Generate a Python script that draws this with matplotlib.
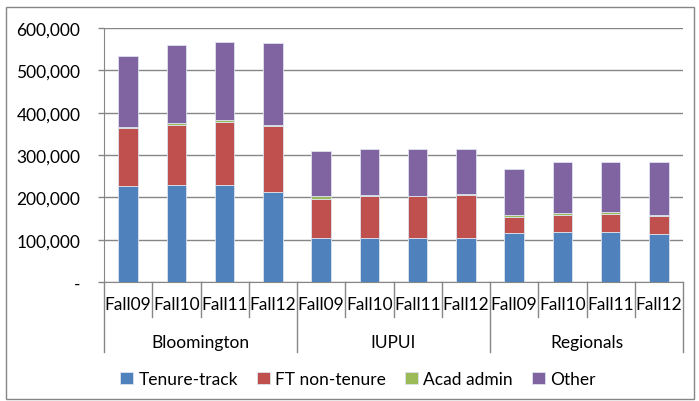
import matplotlib
matplotlib.use("Agg")
import matplotlib.pyplot as plt
from matplotlib.patches import Rectangle
from matplotlib.lines import Line2D
from matplotlib.ticker import FuncFormatter

groups = ["Bloomington", "IUPUI", "Regionals"]
terms = ["Fall09", "Fall10", "Fall11", "Fall12"]
tenure_track = [227000, 229000, 230000, 213000, 103000, 105000, 103000, 104000, 115000, 117000, 118000, 113000]
ft_non_tenure = [137000, 143000, 147500, 155000, 94000, 97000, 99000, 102000, 39000, 42000, 43000, 42000]
acad_admin = [2000, 3000, 5000, 3000, 6000, 3000, 1000, 2000, 4000, 4000, 4000, 3000]
other = [169000, 184000, 184000, 193000, 107000, 109000, 110000, 106000, 108000, 121000, 119000, 126000]
series_names = ["Tenure-track", "FT non-tenure", "Acad admin", "Other"]
colors = ["#4F81BD", "#C0504D", "#9BBB59", "#8064A2"]

plt.rcParams["font.family"] = ["Lato", "DejaVu Sans"]
FS = 12.5

W, H = 699, 402
fig = plt.figure(figsize=(W / 100, H / 100), dpi=100)
ax = fig.add_axes([104 / W, 1 - 283 / H, (683 - 104) / W, (283 - 29) / H])

n = len(groups) * len(terms)
x = list(range(n))
bottom = [0] * n
for vals, name, c in zip([tenure_track, ft_non_tenure, acad_admin, other], series_names, colors):
    ax.bar(x, vals, width=0.4, bottom=bottom, color=c, label=name,
           edgecolor="#dde3ee", linewidth=0.6, zorder=3)
    bottom = [b + v for b, v in zip(bottom, vals)]

ax.set_xlim(-0.5, n - 0.5)
ax.set_ylim(0, 600000)
ax.set_yticks(range(0, 600001, 100000))
ax.yaxis.set_major_formatter(FuncFormatter(lambda v, p: "-" if v == 0 else f"{int(v):,}"))
ax.tick_params(axis="y", length=4, color="#868686", labelsize=FS, pad=13, width=1)
ax.yaxis.grid(True, color="#868686", linewidth=1, zorder=0)
ax.set_xticks([])
for s in ["top", "right"]:
    ax.spines[s].set_visible(False)
ax.spines["left"].set_color("#868686")
ax.spines["bottom"].set_color("#868686")

# multi-level category axis
tr = ax.get_xaxis_transform()
px = 1 / (283 - 29)  # one pixel in axes fraction (vertical)
for i in range(n + 1):
    xb = i - 0.5
    depth = 70 if i % len(terms) == 0 else 35
    ax.add_line(Line2D([xb, xb], [0, -depth * px], transform=tr, color="#868686", lw=1, clip_on=False))
for i in range(n):
    ax.text(i, -22 * px, terms[i % len(terms)], transform=tr, ha="center", va="center", fontsize=FS)
for g, name in enumerate(groups):
    cx = g * len(terms) + (len(terms) - 1) / 2
    ax.text(cx, -60 * px, name, transform=tr, ha="center", va="center", fontsize=FS)

leg = fig.legend(loc="center", bbox_to_anchor=(358 / W, 1 - 380 / H), ncol=4, frameon=False,
                 fontsize=FS, handlelength=0.75, handleheight=0.75, handletextpad=0.3, columnspacing=1.1)

fig.patches.append(Rectangle((6 / W, 1 - 400 / H), (694 - 6) / W, (400 - 8) / H, transform=fig.transFigure,
                             fill=False, edgecolor="#868686", linewidth=1))

fig.savefig("out.png", dpi=100)
